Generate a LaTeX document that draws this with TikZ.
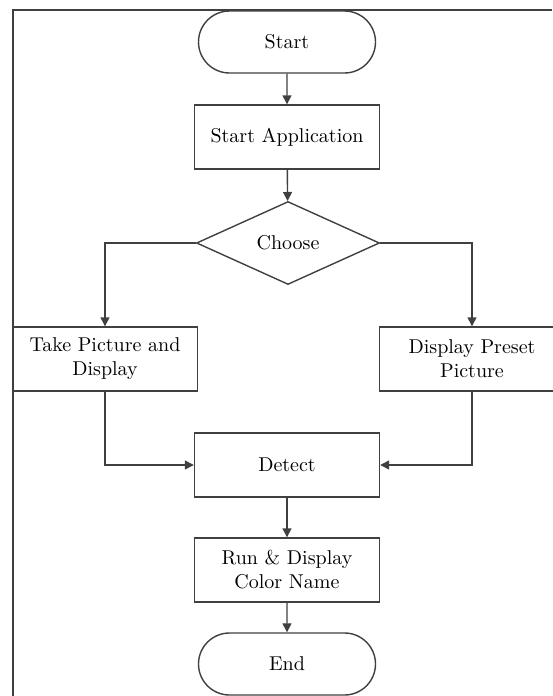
\documentclass[tikz,border=0pt]{standalone}
\usetikzlibrary{shapes.geometric,shapes.misc,arrows.meta}

\begin{document}
\begin{tikzpicture}[x=0.5pt, y=-0.5pt,
    every node/.style={draw=black!75, line width=0.7pt, align=center, inner sep=2pt},
    term/.style={rounded rectangle, minimum width=92.5pt, minimum height=31pt},
    box/.style={rectangle, minimum width=92.5pt, minimum height=32pt},
    choice/.style={diamond, minimum width=91.5pt, minimum height=41.5pt, inner sep=0pt},
    flow/.style={draw=black!75, line width=0.7pt, -{Triangle[length=4.5pt,width=4.5pt]}}]

    \useasboundingbox (0,0) rectangle (552,696);

    % Frame
    \draw[black!75, line width=0.8pt] (13,696) |- (552,10);

    % Nodes
    \node[term] (start) at (287,42) {Start};
    \node[box] (app) at (287,137) {Start Application};
    \node[choice] (choose) at (288,243) {Choose};
    \node[box] (take) at (105,359) {Take Picture and\\Display};
    \node[box] (preset) at (472,359) {Display Preset\\Picture};
    \node[box] (detect) at (287,465) {Detect};
    \node[box] (run) at (287,570) {Run \& Display\\Color Name};
    \node[term] (end) at (287,664) {End};

    % Edges
    \draw[flow] (start) -- (app);
    \draw[flow] (app) -- (choose);
    \draw[flow] (choose.west) -| (take.north);
    \draw[flow] (choose.east) -| (preset.north);
    \draw[flow] (take.south) |- (detect.west);
    \draw[flow] (preset.south) |- (detect.east);
    \draw[flow] (detect) -- (run);
    \draw[flow] (run) -- (end);

\end{tikzpicture}
\end{document}
